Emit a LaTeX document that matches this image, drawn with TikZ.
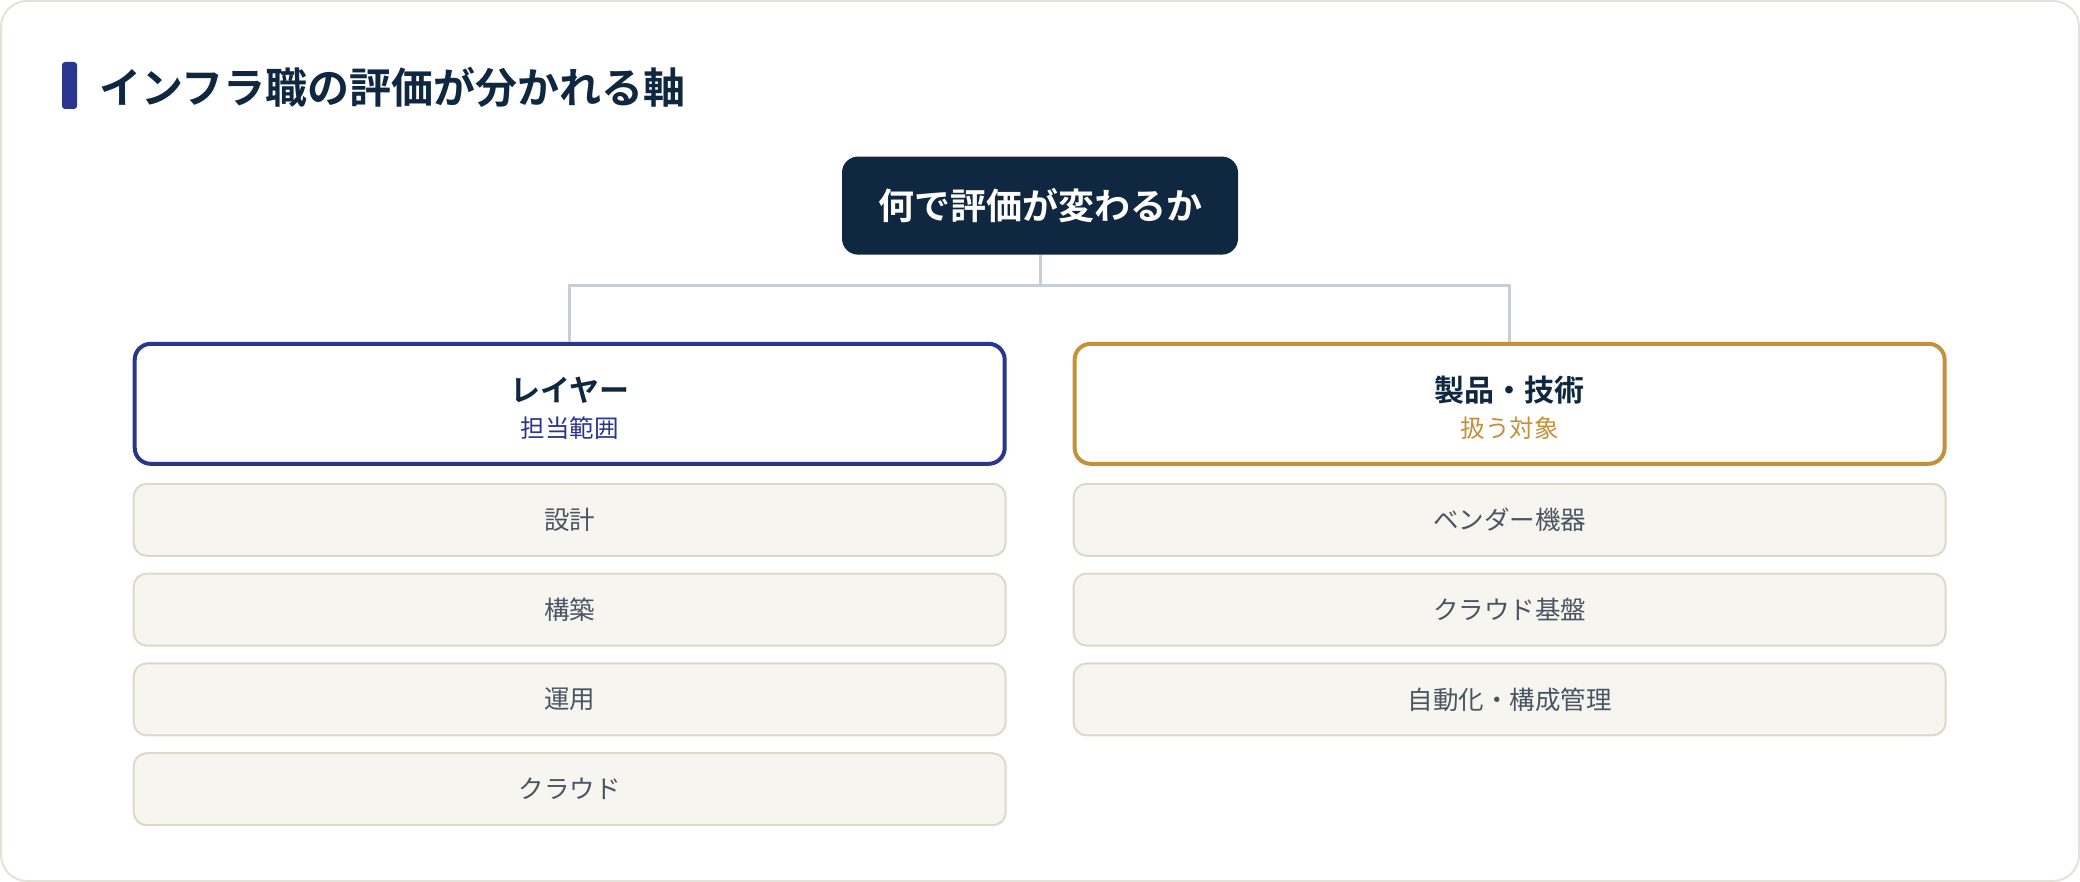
\documentclass[tikz,border=0pt]{standalone}
\usepackage{fontspec}
\setmainfont{Noto Sans CJK JP}[BoldFont={* Bold}]
\usetikzlibrary{positioning}
\definecolor{navy}{HTML}{0F2740}
\definecolor{indigo}{HTML}{2A3590}
\definecolor{gold}{HTML}{C4913A}
\definecolor{itemfill}{HTML}{F6F5F0}
\definecolor{itemline}{HTML}{DCD9C8}
\definecolor{itemtext}{HTML}{4A5563}
\definecolor{connline}{HTML}{C8CED8}
\definecolor{framecol}{HTML}{E4E2D6}
\tikzstyle{rootbox} = [rounded corners=16, fill=navy, text=white,
    minimum width=396, minimum height=98,
    font=\fontsize{36}{40}\selectfont\bfseries]
\tikzstyle{headbox} = [draw, line width=4, rounded corners=16, fill=white,
    minimum width=870, minimum height=120, align=center, text=navy,
    font=\fontsize{24.5}{36}\selectfont]
\tikzstyle{itembox} = [draw=itemline, line width=2, fill=itemfill, rounded corners=13,
    minimum width=872, minimum height=72, text=itemtext,
    font=\fontsize{25.5}{28}\selectfont]
\tikzstyle{conn} = [draw=connline, line width=3]
\newcommand{\headtext}[3]{
    {\fontsize{30}{36}\selectfont\bfseries\rule{0pt}{34pt}#1}\\
    {\color{#3}#2}
}
\begin{document}
\begin{tikzpicture}[x=1pt,y=-1pt]
	\useasboundingbox (0,0) rectangle (2080,882);
	\draw[framecol, line width=2, rounded corners=26] (1,1) rectangle (2079,881);
	
	% title
	\fill[indigo, rounded corners=3] (62,62) rectangle (77,109);
	\node(title) at (99,87.5) [anchor=west, text=navy, inner sep=0,
	    font=\fontsize{42}{44}\selectfont\bfseries] {インフラ職の評価が分かれる軸};
	
	\node(root) at (1040,205.6) [rootbox] {何で評価が変わるか};
	
	\node(layer) at (569.7,403.8) [headbox, draw=indigo] {\headtext{レイヤー}{担当範囲}{indigo}};
	\node(product) at (1509.6,403.8) [headbox, draw=gold] {\headtext{製品・技術}{扱う対象}{gold}};
	
	\draw[conn] (root.south) -- ++(0,30.3) -| (layer.north);
	\draw[conn] (root.south) -- ++(0,30.3) -| (product.north);
	
	\node(layer1) [itembox, below=17pt of layer] {設計};
	\node(layer2) [itembox, below=15.8pt of layer1] {構築};
	\node(layer3) [itembox, below=15.8pt of layer2] {運用};
	\node(layer4) [itembox, below=15.8pt of layer3] {クラウド};
	
	\node(product1) [itembox, below=17pt of product] {ベンダー機器};
	\node(product2) [itembox, below=15.8pt of product1] {クラウド基盤};
	\node(product3) [itembox, below=15.8pt of product2] {自動化・構成管理};
\end{tikzpicture}
\end{document}
